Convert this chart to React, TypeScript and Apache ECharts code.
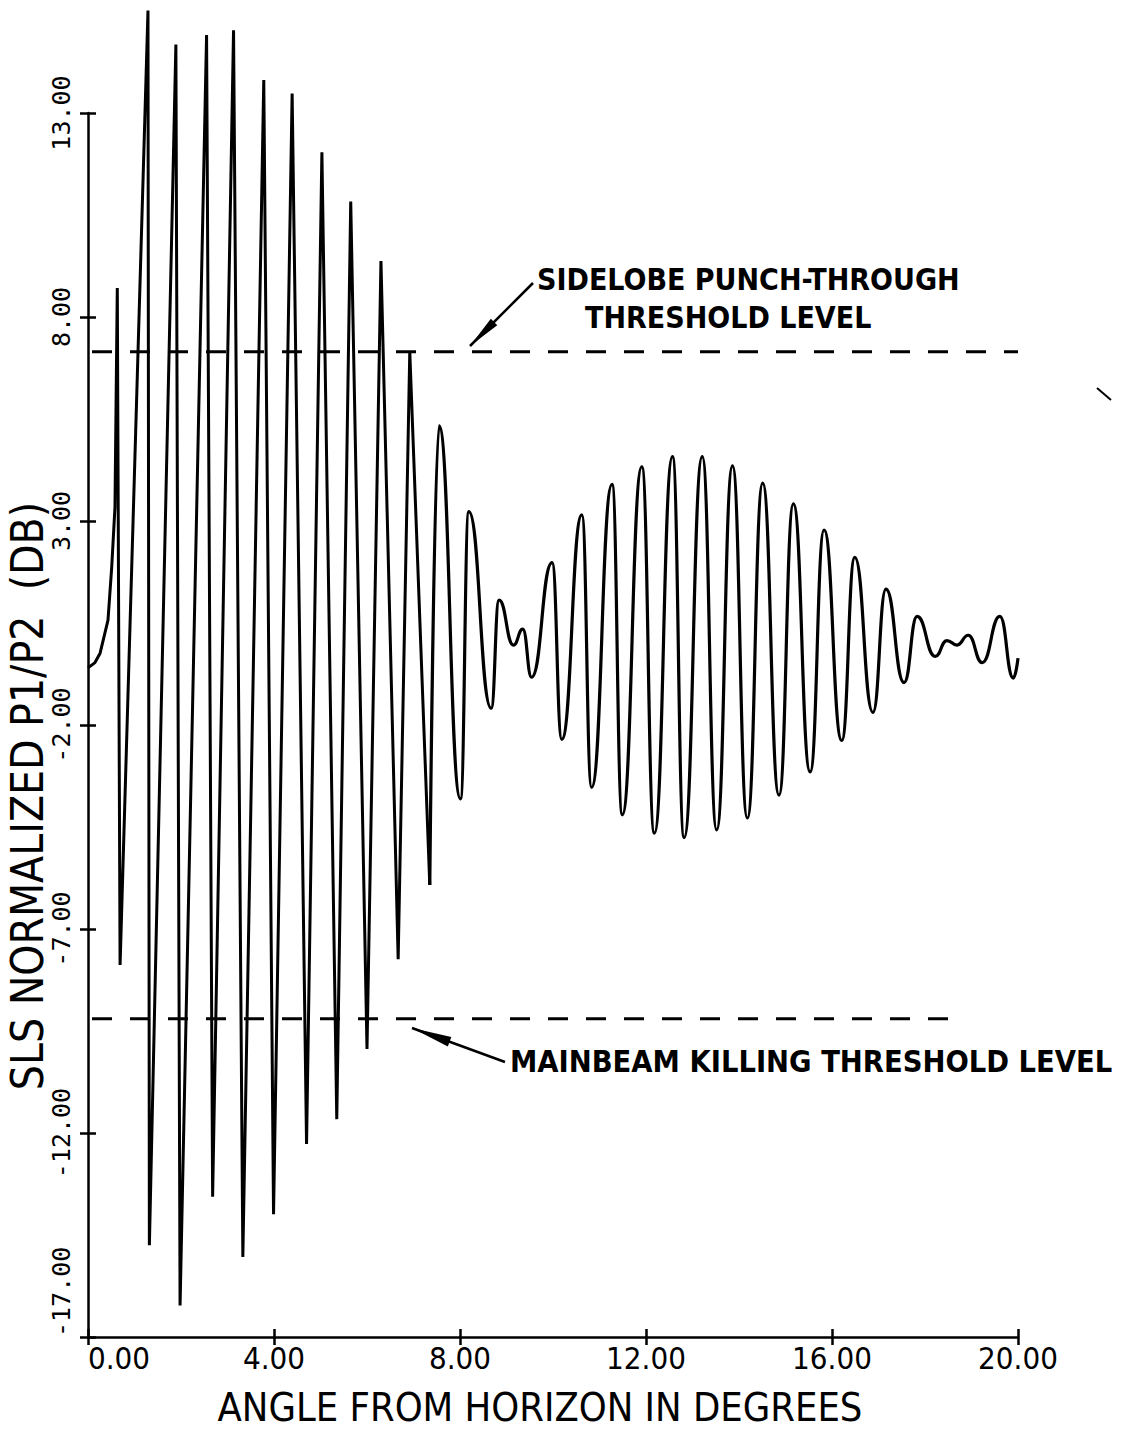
import React, { useEffect, useRef } from "react";
import * as echarts from "echarts";

// ---- data (angle in degrees, value in dB) ----
const Y_MIN = -17; // bottom of the y axis (ticks counted from here)
const xTickStep = 4;
const yTickStep = 5;

// spiky part (drawn with straight segments)
const spikeAngles = [0, 0.15, 0.26, 0.43, 0.51, 0.58, 0.63, 0.69, 1.29, 1.32, 1.89, 1.98, 2.55, 2.68, 3.13, 3.33, 3.78, 3.99, 4.39, 4.7, 5.03, 5.35, 5.65, 6.0, 6.3, 6.67, 6.92, 7.35];
const spikeValues = [-0.6, -0.47, -0.24, 0.57, 1.87, 3.34, 8.71, -7.88, 15.51, -14.75, 14.68, -16.23, 14.91, -13.56, 15.03, -15.04, 13.81, -13.99, 13.48, -12.27, 12.04, -11.66, 10.83, -9.94, 9.37, -7.74, 7.14, -5.92];

// smooth oscillating part
const waveAngles = [7.35, 7.55, 8.01, 8.19, 8.67, 8.84, 9.15, 9.35, 9.54, 9.98, 10.19, 10.62, 10.83, 11.27, 11.49, 11.91, 12.18, 12.57, 12.82, 13.21, 13.52, 13.86, 14.18, 14.51, 14.86, 15.17, 15.53, 15.83, 16.21, 16.49, 16.88, 17.16, 17.55, 17.83, 18.22, 18.47, 18.69, 18.93, 19.23, 19.61, 19.9, 20.0];
const waveValues = [-5.92, 5.33, -3.81, 3.23, -1.59, 1.06, -0.04, 0.35, -0.83, 1.98, -2.35, 3.15, -3.53, 3.9, -4.2, 4.33, -4.65, 4.58, -4.76, 4.58, -4.57, 4.35, -4.28, 3.93, -3.72, 3.42, -3.15, 2.78, -2.38, 2.11, -1.69, 1.33, -0.96, 0.66, -0.32, 0.07, -0.04, 0.2, -0.47, 0.66, -0.85, -0.36];

// threshold levels
const sidelobeLevel = 7.15;
const sidelobeRange = [0, 20];
const mainbeamLevel = -9.2;
const mainbeamRange = [0, 18.8];

// text
const xAxisName = "ANGLE FROM HORIZON IN DEGREES";
const yAxisName = "SLS NORMALIZED P1/P2  (DB)";
const sidelobeLabel1 = "SIDELOBE PUNCH-THROUGH";
const sidelobeLabel2 = "THRESHOLD LEVEL";
const mainbeamLabel = "MAINBEAM KILLING THRESHOLD LEVEL";

const FONT_NARROW = '"Liberation Sans Narrow", "DejaVu Sans Condensed", "Arial Narrow", "Liberation Sans", sans-serif';
const FONT_MONO = '"DejaVu Sans Mono", "Liberation Mono", monospace';

const toPts = (xs: number[], ys: number[]) => xs.map((x, i) => [x, ys[i] - Y_MIN]);

export default function App() {
  const ref = useRef<HTMLDivElement>(null);

  useEffect(() => {
    document.body.style.margin = "0";
    if (!ref.current) return;
    const chart = echarts.init(ref.current, null, { renderer: "svg" });

    const black = "#000";
    const axisCommon = {
      type: "value" as const,
      splitLine: { show: false },
    };

    const arrow = (tip: number[], tail: number[], headLen: number, halfW: number) => {
      const dx = tail[0] - tip[0];
      const dy = tail[1] - tip[1];
      const len = Math.sqrt(dx * dx + dy * dy);
      const ux = dx / len, uy = dy / len;
      const bx = tip[0] + ux * headLen, by = tip[1] + uy * headLen;
      const px = -uy * halfW, py = ux * halfW;
      return [
        { type: "line", shape: { x1: tail[0], y1: tail[1], x2: tip[0], y2: tip[1] }, style: { stroke: black, lineWidth: 2.5 } },
        { type: "polygon", shape: { points: [tip, [bx + px, by + py], [bx - px, by - py]] }, style: { fill: black } },
      ];
    };

    const labelStyle = (size: number) => ({
      fill: black, font: `bold ${size}px ${FONT_NARROW}`,
      align: "left", verticalAlign: "middle", textAlign: "left", textVerticalAlign: "middle",
    });

    const option: any = {
      animation: false,
      backgroundColor: "#fff",
      grid: { left: 88, right: 118, top: 113, bottom: 102, containLabel: false },
      xAxis: [
        {
          ...axisCommon,
          min: 0, max: 20, interval: xTickStep, position: "bottom",
          axisLine: { show: true, lineStyle: { color: black, width: 2.5 } },
          axisTick: { show: true, inside: false, length: 8, lineStyle: { color: black, width: 2.5 } },
          axisLabel: {
            formatter: (v: number) => v.toFixed(2),
            color: black, fontFamily: FONT_NARROW, fontSize: 31, margin: 5,
            alignMinLabel: "left",
          },
          name: xAxisName, nameLocation: "middle", nameGap: 50,
          nameTextStyle: { color: black, fontFamily: FONT_NARROW, fontSize: 39.5, padding: [0, 26, 0, 0] },
        },
        {
          ...axisCommon,
          min: 0, max: 20, interval: xTickStep, position: "bottom",
          axisLine: { show: false },
          axisTick: { show: true, inside: true, length: 8, lineStyle: { color: black, width: 2.5 } },
          axisLabel: { show: false },
        },
      ],
      yAxis: [
        {
          ...axisCommon,
          min: 0, max: 30, interval: yTickStep, position: "left",
          axisLine: { show: true, lineStyle: { color: black, width: 2.5 } },
          axisTick: { show: true, inside: false, length: 8, lineStyle: { color: black, width: 2.5 } },
          axisLabel: {
            formatter: (v: number) => (v + Y_MIN).toFixed(2),
            rotate: 90, color: black, fontFamily: FONT_MONO, fontSize: 25, margin: 14,
            alignMinLabel: "left",
          },
        },
        {
          ...axisCommon,
          min: 0, max: 30, interval: yTickStep, position: "left",
          axisLine: { show: false },
          axisTick: { show: true, inside: true, length: 8, lineStyle: { color: black, width: 2.5 } },
          axisLabel: { show: false },
        },
      ],
      series: [
        {
          type: "line", clip: false, symbol: "none", silent: true,
          data: [[sidelobeRange[0], sidelobeLevel - Y_MIN], [sidelobeRange[1], sidelobeLevel - Y_MIN]],
          lineStyle: { color: black, width: 3, type: [20, 18], dashOffset: -4 },
        },
        {
          type: "line", clip: false, symbol: "none", silent: true,
          data: [[mainbeamRange[0], mainbeamLevel - Y_MIN], [mainbeamRange[1], mainbeamLevel - Y_MIN]],
          lineStyle: { color: black, width: 3, type: [20, 18], dashOffset: -4 },
        },
        {
          type: "line", clip: false, symbol: "none", silent: true, smooth: false,
          data: toPts(spikeAngles, spikeValues),
          lineStyle: { color: black, width: 3 },
        },
        {
          type: "line", clip: false, symbol: "none", silent: true,
          smooth: 0.5, smoothMonotone: "x",
          data: toPts(waveAngles, waveValues),
          lineStyle: { color: black, width: 3.2 },
        },
      ],
      graphic: [
        {
          type: "text", x: 27, y: 796, rotation: Math.PI / 2,
          style: {
            text: yAxisName, fill: black, font: `44px ${FONT_NARROW}`,
            align: "center", verticalAlign: "middle", textAlign: "center", textVerticalAlign: "middle",
          },
        },
        { type: "text", x: 537, y: 279, style: { text: sidelobeLabel1, ...labelStyle(30) } },
        { type: "text", x: 585, y: 317, style: { text: sidelobeLabel2, ...labelStyle(30) } },
        { type: "text", x: 510, y: 1061, style: { text: mainbeamLabel, ...labelStyle(30.5) } },
        ...arrow([470, 346], [533, 283], 34, 4.5),
        ...arrow([412, 1028], [505, 1062], 40, 5),
        { type: "line", shape: { x1: 1097, y1: 388, x2: 1111, y2: 400 }, style: { stroke: black, lineWidth: 2 } },
      ],
    };

    chart.setOption(option);
    return () => chart.dispose();
  }, []);

  return <div ref={ref} style={{ width: 1136, height: 1439 }} />;
}
